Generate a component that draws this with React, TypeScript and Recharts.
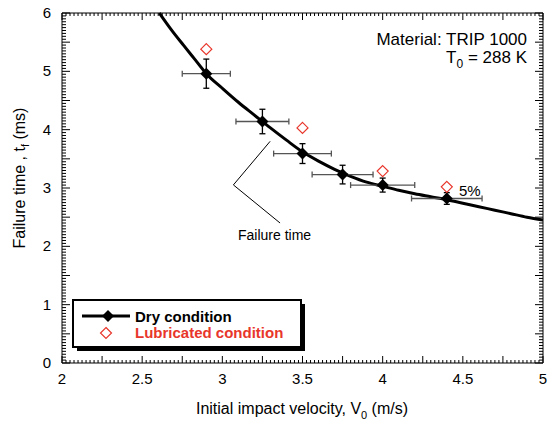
import {
  ComposedChart,
  Line,
  Scatter,
  ErrorBar,
  XAxis,
  YAxis,
  ReferenceLine,
} from 'recharts'

// Dry condition: velocity (m/s), failure time (ms), x / y error half-widths
const DRY_V = [2.9, 3.25, 3.5, 3.75, 4.0, 4.4]
const DRY_T = [4.96, 4.14, 3.59, 3.23, 3.05, 2.82]
const DRY_EX = [0.15, 0.165, 0.18, 0.19, 0.2, 0.22]
const DRY_EY = [0.25, 0.21, 0.17, 0.16, 0.12, 0.1]

// Lubricated condition
const LUB_V = [2.9, 3.5, 4.0, 4.4]
const LUB_T = [5.38, 4.03, 3.29, 3.02]

// Fitted failure-time curve
const FIT_V = [2.607, 2.68, 2.76, 2.83, 2.9, 3.0, 3.1, 3.2, 3.3, 3.4, 3.5, 3.6, 3.7, 3.8, 3.9, 4.0, 4.1, 4.2, 4.3, 4.4, 4.5, 4.6, 4.7, 4.8, 4.9, 5.0]
const FIT_T = [6.0, 5.72, 5.44, 5.2, 4.96, 4.71, 4.47, 4.25, 4.03, 3.82, 3.62, 3.46, 3.32, 3.2, 3.1, 3.03, 2.96, 2.9, 2.85, 2.8, 2.74, 2.68, 2.62, 2.56, 2.5, 2.45]

const X_LABELS = [2, 2.5, 3, 3.5, 4, 4.5, 5]
const Y_LABELS = [0, 1, 2, 3, 4, 5, 6]
// minor tick positions (every 0.025 on x, every 0.05 on y)
const X_MINOR = Array.from({ length: 121 }, (_, i) => +(2 + i * 0.025).toFixed(3))
const Y_MINOR = Array.from({ length: 121 }, (_, i) => +(i * 0.05).toFixed(2))

const RED = '#e8362b'
const FONT = '"Liberation Sans", Arial, sans-serif'

const dry = DRY_V.map((v, i) => ({ v, t: DRY_T[i], ex: DRY_EX[i], ey: DRY_EY[i] }))
const lub = LUB_V.map((v, i) => ({ v, t: LUB_T[i] }))
const fit = FIT_V.map((v, i) => ({ v, t: FIT_T[i] }))

// frame ticks placed through the chart scales
const bottomTicks = X_MINOR.map((v) => ({ v, t: 0 }))
const topTicks = X_MINOR.map((v) => ({ v, t: 6 }))
const leftTicks = Y_MINOR.map((t) => ({ v: 2, t }))
const rightTicks = Y_MINOR.map((t) => ({ v: 5, t }))

const isMult = (v: number, step: number) => Math.abs(v / step - Math.round(v / step)) < 1e-6

const tickShape = (side: 'b' | 't' | 'l' | 'r') => (props: any) => {
  const cx = Number(props.cx)
  const cy = Number(props.cy)
  const p = props.payload || {}
  if (!Number.isFinite(cx) || !Number.isFinite(cy)) return <g />
  if (side === 'b' || side === 't') {
    const len = isMult(Number(p.v), 0.25) ? 7 : 3
    const y2 = side === 'b' ? cy - len : cy + len
    return <line x1={cx} y1={cy} x2={cx} y2={y2} stroke="#000" strokeWidth={1} />
  }
  const len = isMult(Number(p.t), 0.5) ? 8 : 4
  const x2 = side === 'l' ? cx + len : cx - len
  return <line x1={cx} y1={cy} x2={x2} y2={cy} stroke="#000" strokeWidth={1} />
}

const BottomLabel = (props: any) => {
  const x = Number(props.x)
  const y = Number(props.y)
  return (
    <text x={x} y={y + 21} textAnchor="middle" fontSize={15} fill="#000" fontFamily={FONT}>
      {String(props.payload.value)}
    </text>
  )
}

const LeftLabel = (props: any) => {
  const x = Number(props.x)
  const y = Number(props.y)
  return (
    <text x={x - 11} y={y + 5} textAnchor="end" fontSize={15} fill="#000" fontFamily={FONT}>
      {String(props.payload.value)}
    </text>
  )
}

const FilledDiamond = (props: any) => {
  const { cx, cy } = props
  const r = 6
  return <polygon points={`${cx},${cy - r} ${cx + r},${cy} ${cx},${cy + r} ${cx - r},${cy}`} fill="#000" />
}

const OpenDiamond = (props: any) => {
  const { cx, cy } = props
  const r = 5.5
  return (
    <polygon
      points={`${cx},${cy - r} ${cx + r},${cy} ${cx},${cy + r} ${cx - r},${cy}`}
      fill="#fff"
      stroke={RED}
      strokeWidth={1.2}
    />
  )
}

export default function App() {
  return (
    <div style={{ position: 'absolute', left: 0, top: 0, width: 549, height: 426, background: '#fff' }}>
      <ComposedChart width={549} height={426} margin={{ top: 12, right: 5, bottom: 3, left: 10 }}>
        <XAxis
          xAxisId="b"
          dataKey="v"
          type="number"
          domain={[2, 5]}
          ticks={X_LABELS}
          interval={0}
          height={60}
          tickSize={0}
          tickMargin={0}
          tickLine={false}
          axisLine={{ stroke: '#000' }}
          tick={BottomLabel}
        />
        <XAxis
          xAxisId="tp"
          dataKey="v"
          type="number"
          orientation="top"
          domain={[2, 5]}
          ticks={X_LABELS}
          height={1}
          tickLine={false}
          tick={false}
          axisLine={{ stroke: '#000' }}
        />
        <YAxis
          yAxisId="l"
          dataKey="t"
          type="number"
          domain={[0, 6]}
          ticks={Y_LABELS}
          interval={0}
          width={52}
          tickSize={0}
          tickMargin={0}
          tickLine={false}
          axisLine={{ stroke: '#000' }}
          tick={LeftLabel}
        />
        <YAxis
          yAxisId="r"
          dataKey="t"
          type="number"
          orientation="right"
          domain={[0, 6]}
          ticks={Y_LABELS}
          width={1}
          tickLine={false}
          tick={false}
          axisLine={{ stroke: '#000' }}
        />

        {/* binds the top/right frame axes to the same data */}
        <Line data={fit} dataKey="t" xAxisId="tp" yAxisId="r" stroke="transparent" dot={false} isAnimationActive={false} />

        <Scatter data={bottomTicks} dataKey="t" xAxisId="b" yAxisId="l" shape={tickShape('b')} legendType="none" isAnimationActive={false} />
        <Scatter data={topTicks} dataKey="t" xAxisId="b" yAxisId="l" shape={tickShape('t')} legendType="none" isAnimationActive={false} />
        <Scatter data={leftTicks} dataKey="t" xAxisId="b" yAxisId="l" shape={tickShape('l')} legendType="none" isAnimationActive={false} />
        <Scatter data={rightTicks} dataKey="t" xAxisId="b" yAxisId="l" shape={tickShape('r')} legendType="none" isAnimationActive={false} />

        <ReferenceLine
          xAxisId="b"
          yAxisId="l"
          segment={[{ x: 3.298, y: 3.8 }, { x: 3.069, y: 3.053 }]}
          stroke="#000"
          strokeWidth={1}
        />
        <ReferenceLine
          xAxisId="b"
          yAxisId="l"
          segment={[{ x: 3.069, y: 3.053 }, { x: 3.36, y: 2.4 }]}
          stroke="#000"
          strokeWidth={1}
        />

        <Line
          data={fit}
          dataKey="t"
          xAxisId="b"
          yAxisId="l"
          type="monotone"
          stroke="#000"
          strokeWidth={3}
          dot={false}
          isAnimationActive={false}
        />
        <Scatter data={dry} dataKey="t" xAxisId="b" yAxisId="l" shape={FilledDiamond} isAnimationActive={false}>
          <ErrorBar dataKey="ex" direction="x" width={3} stroke="#555" strokeWidth={1.3} isAnimationActive={false} />
          <ErrorBar dataKey="ey" direction="y" width={3} stroke="#000" strokeWidth={1.3} isAnimationActive={false} />
        </Scatter>
        <Scatter data={lub} dataKey="t" xAxisId="b" yAxisId="l" shape={OpenDiamond} isAnimationActive={false} />
      </ComposedChart>

      <svg
        width={549}
        height={426}
        style={{ position: 'absolute', left: 0, top: 0, pointerEvents: 'none' }}
        fontFamily={FONT}
      >
        <text x={527} y={45} textAnchor="end" fontSize={17} fill="#000">
          Material: TRIP 1000
        </text>
        <text x={527} y={62.5} textAnchor="end" fontSize={17} fill="#000">
          T<tspan fontSize={12} dy={5}>0</tspan>
          <tspan dy={-5}> = 288 K</tspan>
        </text>
        <text x={459} y={196} fontSize={15} fill="#000">
          5%
        </text>
        <text x={238} y={240} fontSize={14} fill="#000">
          Failure time
        </text>

        <text x={302} y={414} textAnchor="middle" fontSize={16} fill="#000">
          Initial impact velocity, V<tspan fontSize={11} dy={5}>0</tspan>
          <tspan dy={-5}> (m/s)</tspan>
        </text>
        <text x={25} y={178} textAnchor="middle" fontSize={16} fill="#000" transform="rotate(-90 25 178)">
          Failure time , t<tspan fontSize={11} dy={4}>f</tspan>
          <tspan dy={-4}> (ms)</tspan>
        </text>

        <rect x={77} y={304} width={228} height={47} fill="#000" />
        <rect x={73} y={300} width={228} height={47} fill="#fff" stroke="#000" strokeWidth={2} />
        <line x1={82} y1={316} x2={130} y2={316} stroke="#000" strokeWidth={3} />
        <polygon points="108,310 114,316 108,322 102,316" fill="#000" />
        <text x={135} y={321.5} fontSize={15} fontWeight="bold" fill="#000">
          Dry condition
        </text>
        <polygon points="106,327.5 111.5,333 106,338.5 100.5,333" fill="#fff" stroke={RED} strokeWidth={1.2} />
        <text x={135} y={338} fontSize={15} fontWeight="bold" fill={RED}>
          Lubricated condition
        </text>
      </svg>
    </div>
  )
}
